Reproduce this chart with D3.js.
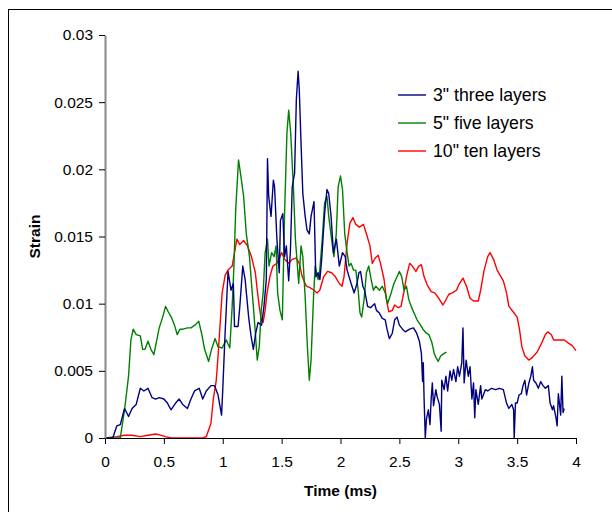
<!DOCTYPE html>
<html>
<head>
<meta charset="utf-8">
<script src="https://cdn.jsdelivr.net/npm/d3@7"></script>
<style>
  body { margin: 0; background: #fff; }
  svg { display: block; font-family: "Liberation Sans", Arial, sans-serif; }
</style>
</head>
<body>
<div id="chart"></div>
<script>
// time (ms), strain
var threeLayers = [
  [0,0],[0.066,0],[0.1,0.0009],[0.13,0.001],[0.166,0.0022],[0.2,0.0016],[0.23,0.0022],[0.265,0.0025],
  [0.3,0.0037],[0.33,0.0035],[0.365,0.0037],[0.4,0.003],[0.43,0.0029],[0.46,0.003],[0.5,0.0029],[0.53,0.0026],
  [0.56,0.0021],[0.6,0.0026],[0.63,0.0029],[0.66,0.0025],[0.7,0.0022],[0.73,0.0029],[0.76,0.0035],[0.8,0.0037],
  [0.83,0.0029],[0.86,0.0035],[0.9,0.0039],[0.93,0.0039],[0.96,0.0032],[0.99,0.0017],[1.0,0.0036],[1.02,0.0078],
  [1.045,0.0124],[1.07,0.011],[1.09,0.0115],[1.1,0.0083],[1.13,0.0083],[1.145,0.0098],[1.17,0.0128],[1.19,0.0118],
  [1.22,0.009],[1.24,0.0076],[1.26,0.0066],[1.28,0.0078],[1.3,0.0086],[1.33,0.0084],[1.35,0.0098],[1.37,0.0118],
  [1.38,0.0208],[1.39,0.018],[1.41,0.0165],[1.43,0.0192],[1.44,0.0187],[1.46,0.0148],[1.48,0.0123],[1.49,0.0162],
  [1.51,0.0167],[1.525,0.0135],[1.54,0.0143],[1.56,0.0117],[1.575,0.014],[1.59,0.0187],[1.61,0.0197],[1.625,0.0252],
  [1.64,0.0273],[1.65,0.0259],[1.665,0.0219],[1.68,0.0182],[1.7,0.0165],[1.715,0.0155],[1.735,0.0152],[1.75,0.0165],
  [1.775,0.0176],[1.79,0.012],[1.81,0.0123],[1.825,0.0118],[1.84,0.0133],[1.865,0.0167],[1.885,0.0185],[1.9,0.0182],
  [1.92,0.0165],[1.94,0.0138],[1.965,0.0148],[1.99,0.0128],[2.017,0.0138],[2.04,0.0135],[2.056,0.0125],[2.09,0.0115],
  [2.116,0.0108],[2.14,0.0115],[2.156,0.0123],[2.17,0.0124],[2.19,0.0113],[2.205,0.011],[2.23,0.0098],[2.255,0.0097],
  [2.29,0.01],[2.305,0.0095],[2.33,0.0093],[2.355,0.0089],[2.38,0.0088],[2.395,0.0081],[2.415,0.0074],[2.44,0.0078],
  [2.46,0.0088],[2.48,0.009],[2.5,0.0084],[2.527,0.0081],[2.55,0.0079],[2.587,0.0081],[2.62,0.0082],[2.647,0.0078],
  [2.67,0.0072],[2.687,0.0063],[2.697,0.0042],[2.703,0.0056],[2.71,0.0029],[2.72,0],[2.73,0.0014],[2.746,0.0021],
  [2.76,0.001],[2.77,0.0029],[2.78,0.0041],[2.79,0.0024],[2.81,0.0036],[2.82,0.0031],[2.84,0.0025],[2.855,0.0005],
  [2.86,0.0043],[2.88,0.0036],[2.895,0.0046],[2.91,0.0035],[2.93,0.005],[2.945,0.0043],[2.96,0.0051],[2.98,0.0042],
  [2.995,0.0053],[3.01,0.0046],[3.03,0.0056],[3.04,0.0082],[3.05,0.0041],[3.067,0.0058],[3.085,0.0046],[3.1,0.0053],
  [3.116,0.0029],[3.13,0.0041],[3.14,0.0015],[3.15,0.0036],[3.17,0.0025],[3.19,0.0039],[3.2,0.0029],[3.23,0.0036],
  [3.25,0.0035],[3.283,0.0037],[3.317,0.0036],[3.35,0.0037],[3.383,0.0036],[3.41,0.0026],[3.43,0.0022],[3.455,0.0025],
  [3.47,0.0021],[3.475,0],[3.486,0.0026],[3.5,0.0026],[3.516,0.0032],[3.536,0.0033],[3.55,0.0039],[3.566,0.0043],
  [3.58,0.0032],[3.6,0.0041],[3.616,0.0046],[3.63,0.0053],[3.64,0.0043],[3.66,0.0041],[3.68,0.0037],[3.7,0.0042],
  [3.72,0.0039],[3.74,0.0037],[3.765,0.0039],[3.78,0.0026],[3.8,0.0021],[3.81,0.0024],[3.83,0.0015],[3.84,0.0009],
  [3.85,0.0033],[3.87,0.0017],[3.88,0.0046],[3.89,0.0019],[3.9,0.0022]
];

var fiveLayers = [
  [0,0],[0.13,0],[0.166,0.0021],[0.2,0.0046],[0.22,0.0073],[0.24,0.0081],[0.265,0.0077],[0.3,0.0076],
  [0.32,0.0066],[0.34,0.0066],[0.365,0.0072],[0.39,0.0066],[0.415,0.0062],[0.44,0.0073],[0.46,0.0082],[0.49,0.009],
  [0.514,0.0098],[0.537,0.0094],[0.563,0.009],[0.59,0.0084],[0.613,0.0077],[0.637,0.0081],[0.663,0.0081],[0.7,0.0082],
  [0.73,0.0082],[0.763,0.0084],[0.796,0.0087],[0.82,0.0078],[0.846,0.0066],[0.88,0.0057],[0.905,0.0066],[0.935,0.0074],
  [0.96,0.0068],[0.995,0.0067],[1.03,0.0073],[1.06,0.0067],[1.08,0.0098],[1.095,0.0128],[1.11,0.017],[1.134,0.0207],
  [1.154,0.0195],[1.177,0.018],[1.2,0.0152],[1.227,0.0135],[1.244,0.0115],[1.26,0.0098],[1.277,0.0078],[1.293,0.0058],
  [1.31,0.0068],[1.327,0.0095],[1.343,0.0108],[1.36,0.0138],[1.38,0.0148],[1.393,0.0128],[1.415,0.0138],[1.436,0.0135],
  [1.453,0.0143],[1.466,0.0108],[1.486,0.0095],[1.506,0.0088],[1.525,0.0167],[1.545,0.0227],[1.56,0.0244],[1.577,0.0227],
  [1.6,0.0187],[1.617,0.0148],[1.63,0.0133],[1.645,0.0115],[1.665,0.0143],[1.68,0.0135],[1.7,0.0105],[1.72,0.0066],
  [1.735,0.0043],[1.75,0.0058],[1.77,0.0103],[1.785,0.0128],[1.81,0.0118],[1.824,0.0125],[1.845,0.0148],[1.865,0.0175],
  [1.885,0.018],[1.9,0.0165],[1.924,0.0148],[1.944,0.0135],[1.964,0.0152],[1.98,0.0187],[2.0,0.0195],[2.017,0.0185],
  [2.036,0.0152],[2.056,0.0138],[2.073,0.0128],[2.09,0.013],[2.11,0.0125],[2.13,0.0125],[2.15,0.011],[2.166,0.0093],
  [2.18,0.009],[2.2,0.0103],[2.22,0.0123],[2.24,0.0128],[2.26,0.0118],[2.28,0.011],[2.3,0.0113],[2.33,0.011],
  [2.355,0.0113],[2.38,0.0108],[2.4,0.01],[2.43,0.0108],[2.454,0.0115],[2.48,0.012],[2.5,0.0124],[2.52,0.012],
  [2.54,0.011],[2.56,0.0113],[2.58,0.0103],[2.6,0.0098],[2.625,0.0093],[2.65,0.0088],[2.68,0.0084],[2.7,0.0081],
  [2.73,0.0078],[2.75,0.0077],[2.776,0.0071],[2.796,0.0063],[2.81,0.006],[2.83,0.0057],[2.85,0.0061],[2.88,0.0063],
  [2.9,0.0064]
];

var tenLayers = [
  [0,0],[0.1,0.0001],[0.166,0.0002],[0.23,0.0002],[0.3,0.0001],[0.365,0.0002],[0.43,0.0003],[0.48,0.0002],
  [0.514,0.0001],[0.56,0],[0.63,0],[0.83,0],[0.86,0.0001],[0.9,0.0011],[0.92,0.0029],[0.945,0.0043],
  [0.96,0.0061],[0.98,0.0088],[0.995,0.0108],[1.02,0.0121],[1.045,0.0125],[1.08,0.0128],[1.1,0.0138],[1.12,0.0148],
  [1.144,0.0144],[1.177,0.0147],[1.21,0.0143],[1.244,0.0135],[1.277,0.0123],[1.293,0.011],[1.31,0.0098],[1.327,0.0088],
  [1.343,0.0086],[1.36,0.0095],[1.376,0.0108],[1.4,0.012],[1.426,0.0128],[1.46,0.013],[1.486,0.0135],[1.5,0.0138],
  [1.525,0.0133],[1.56,0.013],[1.59,0.0133],[1.625,0.0134],[1.65,0.013],[1.675,0.012],[1.71,0.0113],[1.74,0.0112],
  [1.775,0.011],[1.8,0.0108],[1.824,0.011],[1.857,0.012],[1.89,0.0124],[1.924,0.0123],[1.957,0.012],[1.99,0.0115],
  [2.013,0.0113],[2.03,0.012],[2.056,0.0145],[2.08,0.016],[2.106,0.0164],[2.13,0.0159],[2.16,0.0157],[2.195,0.0159],
  [2.22,0.0152],[2.25,0.0143],[2.27,0.013],[2.295,0.0134],[2.32,0.0136],[2.34,0.013],[2.37,0.0118],[2.39,0.0103],
  [2.41,0.0094],[2.44,0.0095],[2.46,0.0099],[2.49,0.0097],[2.514,0.0098],[2.537,0.0108],[2.56,0.012],[2.587,0.013],
  [2.61,0.0128],[2.64,0.0124],[2.665,0.0128],[2.687,0.0129],[2.71,0.012],[2.736,0.0114],[2.77,0.0109],[2.8,0.0108],
  [2.835,0.0104],[2.87,0.0099],[2.89,0.0102],[2.92,0.0107],[2.95,0.0108],[2.985,0.011],[3.01,0.0115],[3.04,0.0119],
  [3.07,0.0113],[3.1,0.0104],[3.13,0.0102],[3.17,0.0102],[3.19,0.011],[3.22,0.0125],[3.25,0.0135],[3.27,0.0138],
  [3.3,0.0133],[3.33,0.0125],[3.383,0.0117],[3.41,0.0108],[3.43,0.0098],[3.466,0.0094],[3.5,0.009],[3.52,0.0081],
  [3.54,0.0068],[3.566,0.0061],[3.6,0.0058],[3.63,0.006],[3.67,0.0064],[3.71,0.0071],[3.74,0.0077],[3.76,0.0079],
  [3.79,0.0077],[3.81,0.0073],[3.85,0.0073],[3.9,0.0073],[3.93,0.0071],[3.965,0.0069],[4.0,0.0065]
];

var seriesNames = ['3" three layers', '5" five layers', '10" ten layers'];
var seriesColors = ['#000080', '#008000', '#ff0000'];
var xTickValues = [0, 0.5, 1, 1.5, 2, 2.5, 3, 3.5, 4];
var xTickLabels = ['0', '0.5', '1', '1.5', '2', '2.5', '3', '3.5', '4'];
var yTickValues = [0, 0.005, 0.01, 0.015, 0.02, 0.025, 0.03];
var yTickLabels = ['0', '0.005', '0.01', '0.015', '0.02', '0.025', '0.03'];

!function () {
  'use strict';

  var width = 612, height = 512;
  var plot = { left: 105, right: 576, top: 35, bottom: 438 };

  var svg = d3.select('#chart').append('svg')
    .attr('width', width)
    .attr('height', height);

  // outer chart frame (cut off at the right and bottom in the original)
  svg.append('rect')
    .attr('x', 8.5).attr('y', 9.5)
    .attr('width', 640).attr('height', 540)
    .attr('fill', 'none')
    .attr('stroke', '#000')
    .attr('stroke-width', 1);

  var x = d3.scaleLinear().domain([0, 4]).range([plot.left, plot.right]);
  var y = d3.scaleLinear().domain([0, 0.03]).range([plot.bottom, plot.top]);

  var xAxis = d3.axisBottom(x)
    .tickValues(xTickValues)
    .tickFormat(function (d, i) { return xTickLabels[i]; })
    .tickSizeInner(6).tickSizeOuter(0).tickPadding(12);

  var yAxis = d3.axisLeft(y)
    .tickValues(yTickValues)
    .tickFormat(function (d, i) { return yTickLabels[i]; })
    .tickSizeInner(6).tickSizeOuter(0).tickPadding(6);

  var series = [threeLayers, fiveLayers, tenLayers];

  var line = d3.line()
    .x(function (d) { return x(d[0]); })
    .y(function (d) { return y(d[1]); });

  // red first so the blue sits on top as in the original
  [2, 1, 0].forEach(function (i) {
    svg.append('path')
      .datum(series[i])
      .attr('fill', 'none')
      .attr('stroke', seriesColors[i])
      .attr('stroke-width', 1.4)
      .attr('stroke-linejoin', 'round')
      .attr('d', line);
  });

  var gx = svg.append('g')
    .attr('transform', 'translate(0,' + plot.bottom + ')')
    .call(xAxis);
  gx.select('.domain').attr('stroke', '#000');
  gx.selectAll('text').attr('font-size', 15.5).attr('font-family', null).attr('fill', '#000');

  var gy = svg.append('g')
    .attr('transform', 'translate(' + plot.left + ',0)')
    .call(yAxis);
  gy.select('.domain').attr('stroke', '#888').attr('stroke-width', 2);
  gy.selectAll('text').attr('font-size', 15.5).attr('font-family', null).attr('fill', '#000');

  svg.append('text')
    .attr('x', (plot.left + plot.right) / 2)
    .attr('y', 496)
    .attr('text-anchor', 'middle')
    .attr('font-size', 15.5)
    .attr('font-weight', 'bold')
    .text('Time (ms)');

  svg.append('text')
    .attr('transform', 'translate(40,' + (plot.top + plot.bottom) / 2 + ') rotate(-90)')
    .attr('text-anchor', 'middle')
    .attr('font-size', 15.5)
    .attr('font-weight', 'bold')
    .text('Strain');

  var legend = svg.append('g').attr('transform', 'translate(398,95)');
  var rows = legend.selectAll('g')
    .data(seriesNames)
    .enter().append('g')
    .attr('transform', function (d, i) { return 'translate(0,' + i * 28 + ')'; });

  rows.append('line')
    .attr('x1', 0).attr('x2', 28)
    .attr('stroke', function (d, i) { return seriesColors[i]; })
    .attr('stroke-width', 1.4);

  rows.append('text')
    .attr('x', 35)
    .attr('y', 6)
    .attr('font-size', 17.7)
    .text(function (d) { return d; });
}();
</script>
</body>
</html>
